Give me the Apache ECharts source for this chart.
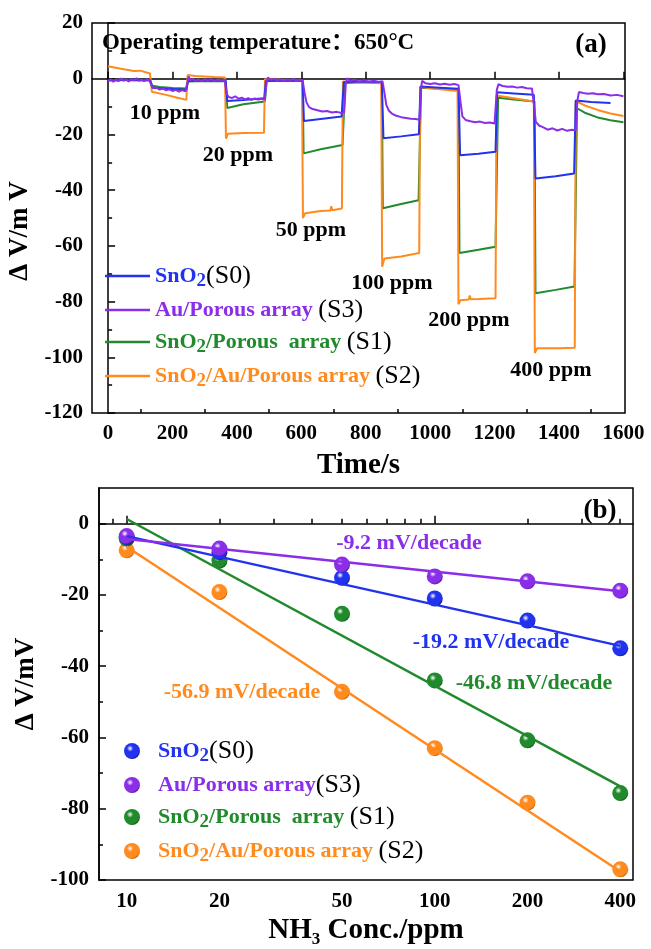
<!DOCTYPE html>
<html>
<head>
<meta charset="utf-8">
<title>NH3 sensing response</title>
<script src="https://cdn.jsdelivr.net/npm/echarts@6.0.0/dist/echarts.min.js"></script>
<style>
    html, body { margin: 0; padding: 0; background: #fff; }
    #main { width: 651px; height: 949px; }
</style>
</head>
<body>
<div id="main"></div>
<script>
// (a) transient response, [time s, dV mV]
var s0Trace = [[0,-0.6],[60,-0.4],[130,-0.5],[138,-3.2],[180,-3.6],[243,-4.0],[248,-0.8],[300,-0.6],[365,-0.6],[370,-8.0],[420,-7.6],[485,-7.0],[490,-0.8],[550,-0.6],[604,-0.7],[608,-15.2],[660,-14.5],[725,-13.6],[732,-1.2],[790,-1.0],[850,-1.2],[855,-21.4],[910,-20.7],[965,-19.9],[970,-2.8],[1030,-3.2],[1088,-3.6],[1093,-27.5],[1150,-26.9],[1203,-26.2],[1208,-4.9],[1260,-5.3],[1322,-5.8],[1327,-35.8],[1390,-35.0],[1447,-34.0],[1452,-7.8],[1500,-8.4],[1560,-8.7]];
var s3Trace = [[0,-0.8],[8,-0.2],[16,-1.1],[24,-0.4],[32,-0.9],[40,0.1],[48,-0.7],[56,-0.3],[64,-1.0],[72,-0.2],[80,-0.6],[88,0.2],[96,-0.8],[104,-0.3],[112,-0.9],[120,-0.2],[128,-0.6],
    [135,-2.5],[142,-3.4],[150,-3.1],[160,-3.9],[170,-3.5],[180,-4.2],[190,-3.8],[200,-4.4],[210,-4.0],[220,-4.6],[230,-4.1],[240,-4.5],
    [246,-1.5],[250,0.8],[256,-0.6],[264,-0.1],[272,-0.8],[280,-0.3],[290,-0.9],[300,-0.2],[310,-0.7],[320,-0.1],[330,-0.8],[340,-0.3],[350,-0.7],[362,-0.4],
    [368,-5.5],[375,-6.6],[385,-6.9],[395,-6.3],[405,-7.2],[415,-6.8],[425,-7.4],[435,-7.0],[445,-7.6],[455,-7.1],[465,-7.5],[478,-7.2],[486,-7.6],
    [492,-1.5],[496,0.4],[505,-0.5],[515,-0.1],[525,-0.7],[535,-0.2],[545,-0.8],[555,-0.3],[565,-0.6],[575,-0.1],[585,-0.7],[597,-0.4],[604,-0.6],
    [610,-5.0],[616,-8.5],[624,-10.2],[635,-10.9],[650,-11.3],[665,-11.8],[680,-11.6],[695,-12.1],[710,-11.9],[725,-12.3],[733,-12.0],
    [738,-2.0],[742,0.2],[750,-0.8],[765,-0.4],[780,-1.0],[795,-0.6],[810,-1.1],[825,-0.7],[840,-1.2],[852,-0.9],
    [858,-5.0],[864,-9.5],[872,-11.5],[882,-12.6],[895,-13.3],[910,-13.8],[925,-14.1],[940,-14.4],[955,-14.5],[967,-14.7],
    [971,-4.0],[975,-0.8],[985,-1.6],[1000,-1.9],[1015,-1.6],[1030,-2.1],[1045,-1.8],[1060,-2.2],[1075,-1.9],[1088,-2.3],
    [1095,-9.0],[1100,-13.5],[1110,-14.8],[1125,-15.3],[1140,-15.6],[1155,-15.4],[1170,-15.9],[1185,-15.7],[1200,-16.1],
    [1207,-4.0],[1212,-2.0],[1225,-2.6],[1240,-2.9],[1255,-2.8],[1270,-3.2],[1285,-3.0],[1300,-3.4],[1316,-3.5],
    [1323,-10.0],[1328,-15.5],[1338,-16.8],[1350,-17.4],[1365,-18.3],[1380,-17.8],[1395,-18.6],[1410,-18.0],[1425,-18.7],[1440,-18.3],[1452,-18.6],
    [1457,-8.0],[1462,-4.8],[1475,-5.1],[1490,-5.4],[1505,-5.2],[1520,-5.6],[1540,-5.5],[1560,-6.0],[1580,-5.8],[1600,-6.3]];
var s1Trace = [[0,-0.5],[130,-0.6],[137,-2.5],[160,-3.0],[200,-3.3],[243,-3.5],[248,-1.0],[300,-0.8],[365,-0.9],[370,-10.5],[420,-9.2],[487,-8.2],[492,-0.8],[550,-0.6],[604,-0.8],[607,-26.8],[660,-25.3],[728,-23.8],[736,-1.5],[790,-1.3],[850,-1.6],[853,-46.5],[910,-45.0],[964,-43.6],[972,-3.2],[1030,-3.6],[1088,-4.0],[1091,-62.6],[1150,-61.4],[1203,-60.3],[1211,-6.8],[1260,-7.5],[1324,-8.2],[1327,-77.0],[1390,-75.8],[1448,-74.6],[1456,-10.6],[1480,-12.2],[1520,-13.9],[1560,-14.9],[1600,-15.6]];
var s2Trace = [[0,4.5],[40,3.6],[80,2.8],[100,2.9],[130,1.9],[136,-4.7],[180,-5.8],[215,-6.8],[243,-7.6],[247,1.3],[270,1.0],[330,0.6],[363,0.4],[366,-21.5],[372,-19.8],[420,-19.5],[484,-19.4],[487,-0.2],[550,-0.5],[602,-0.8],[605,-50.0],[612,-48.3],[660,-47.5],[690,-47.3],[693,-45.8],[696,-47.2],[726,-46.6],[729,-1.0],[790,-1.3],[848,-1.5],[851,-67.5],[858,-64.5],[910,-63.8],[966,-62.6],[969,-3.0],[1030,-3.8],[1085,-4.4],[1088,-81.0],[1094,-79.5],[1120,-79.3],[1123,-77.8],[1126,-79.2],[1150,-79.1],[1203,-78.8],[1206,-6.0],[1260,-7.0],[1322,-8.2],[1325,-98.5],[1332,-96.8],[1400,-96.8],[1449,-96.6],[1452,-8.0],[1480,-9.6],[1520,-11.2],[1560,-12.5],[1600,-13.4]];
var ppmLabels = ['10 ppm', '20 ppm', '50 ppm', '100 ppm', '200 ppm', '400 ppm'];
var timeTicks = [0, 200, 400, 600, 800, 1000, 1200, 1400, 1600];
var timeMinor = [100, 300, 500, 700, 900, 1100, 1300, 1500];

// (b) response vs NH3 concentration
var concList = [10, 20, 50, 100, 200, 400];
var s0Points = [-3.8, -8.0, -15.2, -21.0, -27.2, -35.0];
var s3Points = [-3.5, -7.0, -11.5, -14.8, -16.2, -18.8];
var s1Points = [-4.2, -10.4, -25.3, -44.0, -60.8, -75.6];
var s2Points = [-7.5, -19.2, -47.2, -63.0, -78.3, -97.0];
// fitted lines, values at 10 and 400 ppm
var fitConc = [10, 400];
var s0Fit = [-3.5, -34.3];
var s3Fit = [-4.3, -19.0];
var s1Fit = [1.3, -73.7];
var s2Fit = [-6.5, -97.6];
var slopeTexts = ['-19.2 mV/decade', '-9.2 mV/decade', '-46.8 mV/decade', '-56.9 mV/decade'];
var concTicks = [10, 20, 50, 100, 200, 400];
var concMajor = [10, 100];
var concMinor = [9, 20, 30, 40, 50, 60, 70, 80, 90, 200, 300, 400];
var dvTicks = [-100, -80, -60, -40, -20, 0];
var dvMinor = [-90, -70, -50, -30, -10];

var SERIF = "'Liberation Serif', 'Times New Roman', serif";
var colS0 = '#2233ee', colS3 = '#8b2ee8', colS1 = '#208a2c', colS2 = '#ff8a1e';

window.onload = function () {
    draw_chart();
};

function pairs(xs, ys) {
    return xs.map(function (x, i) { return [x, ys[i]]; });
}

function ball(c, dark) {
    return new echarts.graphic.RadialGradient(0.38, 0.34, 0.72, [
        { offset: 0, color: '#ffffff' },
        { offset: 0.28, color: c },
        { offset: 0.8, color: c },
        { offset: 1, color: dark }
    ]);
}

function make_rich(pad) {
    var rich = { k: { color: '#000', fontFamily: SERIF, fontWeight: 'normal', fontSize: 26, lineHeight: 30 },
                 sp: { width: pad, lineHeight: 30 } };
    var cols = { 0: colS0, 1: colS1, 2: colS2, 3: colS3 };
    for (var i in cols) {
        rich['t' + i] = { color: cols[i], fontFamily: SERIF, fontWeight: 'bold', fontSize: 22, lineHeight: 30 };
        rich['u' + i] = { color: cols[i], fontFamily: SERIF, fontWeight: 'bold', fontSize: 19, lineHeight: 14, verticalAlign: 'bottom' };
    }
    return rich;
}

var legendTextA = {
    a0: '{t0|SnO}{u0|2}{k|(S0)}',
    a3: '{t3|Au/Porous array }{k|(S3)}',
    a1: '{t1|SnO}{u1|2}{t1|/Porous  array }{k|(S1)}',
    a2: '{t2|SnO}{u2|2}{t2|/Au/Porous array }{k|(S2)}'
};
var legendTextB = {
    b0: '{sp| }{t0|SnO}{u0|2}{k|(S0)}',
    b3: '{sp| }{t3|Au/Porous array}{k|(S3)}',
    b1: '{sp| }{t1|SnO}{u1|2}{t1|/Porous  array }{k|(S1)}',
    b2: '{sp| }{t2|SnO}{u2|2}{t2|/Au/Porous array }{k|(S2)}'
};

function axis_label(extra) {
    var o = { color: '#000', fontFamily: SERIF, fontWeight: 'bold', fontSize: 21,
              formatter: function (v) { return String(v); } };
    for (var k in extra) o[k] = extra[k];
    return o;
}

function draw_chart() {
    var myChart = echarts.init(document.getElementById('main'), null, { renderer: 'canvas' });
    var lineAxis = { show: true, lineStyle: { color: '#000', width: 1.5 } };
    var noLine = { show: false };

    var annot = [];
    var ppmPos = [[165, 113], [238, 155], [311, 230], [392, 283], [469, 320], [551, 370]];
    ppmLabels.forEach(function (t, i) {
        annot.push({ type: 'text', x: ppmPos[i][0], y: ppmPos[i][1],
            style: { text: t, fill: '#000', font: 'bold 22px ' + SERIF, align: 'center', verticalAlign: 'middle' } });
    });
    var slopePos = [[491, 642, colS0], [409, 543, colS3], [534, 683, colS1], [242, 692, colS2]];
    slopeTexts.forEach(function (t, i) {
        annot.push({ type: 'text', x: slopePos[i][0], y: slopePos[i][1],
            style: { text: t, fill: slopePos[i][2], font: 'bold 22px ' + SERIF, align: 'center', verticalAlign: 'middle' } });
    });
    annot.push({ type: 'text', x: 102, y: 43,
        style: { text: 'Operating temperature：650°C', fill: '#000', font: "bold 23px 'Liberation Serif', 'Noto Sans CJK SC', serif", align: 'left', verticalAlign: 'middle' } });
    annot.push({ type: 'text', x: 591, y: 45,
        style: { text: '(a)', fill: '#000', font: 'bold 27px ' + SERIF, align: 'center', verticalAlign: 'middle' } });
    annot.push({ type: 'text', x: 600, y: 511,
        style: { text: '(b)', fill: '#000', font: 'bold 27px ' + SERIF, align: 'center', verticalAlign: 'middle' } });

    var option = {
        animation: false,
        backgroundColor: '#fff',
        grid: [
            { left: 92, top: 23, width: 533, height: 390, show: true, borderColor: '#000', borderWidth: 1.5, containLabel: false, outerBoundsMode: 'none' },
            { left: 99, top: 488, width: 534, height: 392, show: true, borderColor: '#000', borderWidth: 1.5, containLabel: false, outerBoundsMode: 'none' }
        ],
        legend: [
            {
                orient: 'vertical', left: 100, top: 258, itemGap: 6, itemWidth: 45, itemHeight: 2.5,
                icon: 'rect', selectedMode: false,
                data: ['a0', 'a3', 'a1', 'a2'],
                formatter: function (name) { return legendTextA[name]; },
                textStyle: { rich: make_rich(0) }
            },
            {
                orient: 'vertical', left: 119, top: 733, itemGap: 6, itemWidth: 16, itemHeight: 16,
                icon: 'circle', selectedMode: false,
                data: ['b0', 'b3', 'b1', 'b2'],
                formatter: function (name) { return legendTextB[name]; },
                textStyle: { rich: make_rich(13) }
            }
        ],
        xAxis: [
            {
                gridIndex: 0, type: 'value', min: -50, max: 1605, position: 'bottom',
                name: 'Time/s', nameLocation: 'middle', nameGap: 38,
                nameTextStyle: { color: '#000', fontFamily: SERIF, fontWeight: 'bold', fontSize: 29 },
                axisLine: lineAxis,
                axisTick: { show: true, inside: true, length: 7, customValues: timeTicks, lineStyle: { color: '#000', width: 1.5 } },
                axisLabel: axis_label({ margin: 10, customValues: timeTicks }),
                splitLine: { show: false }
            },
            {
                gridIndex: 0, type: 'value', min: -50, max: 1605, position: 'bottom',
                axisLine: noLine, axisLabel: { show: false }, splitLine: { show: false },
                axisTick: { show: true, inside: true, length: 4, customValues: timeMinor, lineStyle: { color: '#000', width: 1.5 } }
            },
            {
                gridIndex: 1, type: 'log', logBase: 10, min: 8.13, max: 440, position: 'bottom',
                name: '{m|NH}{s|3}{m| Conc./ppm}', nameLocation: 'middle', nameGap: 34,
                nameTextStyle: { color: '#000', rich: {
                    m: { color: '#000', fontFamily: SERIF, fontWeight: 'bold', fontSize: 29, lineHeight: 34 },
                    s: { color: '#000', fontFamily: SERIF, fontWeight: 'bold', fontSize: 17, lineHeight: 10, verticalAlign: 'bottom' }
                } },
                axisLine: lineAxis,
                axisTick: { show: true, inside: true, length: 8, customValues: concMajor, lineStyle: { color: '#000', width: 1.5 } },
                axisLabel: axis_label({ margin: 11, customValues: concTicks }),
                splitLine: { show: false }, minorTick: { show: false }, minorSplitLine: { show: false }
            },
            {
                gridIndex: 1, type: 'log', logBase: 10, min: 8.13, max: 440, position: 'bottom',
                axisLine: noLine, axisLabel: { show: false }, splitLine: { show: false },
                axisTick: { show: true, inside: true, length: 5, customValues: concMinor, lineStyle: { color: '#000', width: 1.5 } }
            }
        ],
        yAxis: [
            {
                gridIndex: 0, type: 'value', min: -120, max: 20, interval: 20, position: 'left',
                name: 'Δ V/m V', nameLocation: 'middle', nameGap: 50, nameRotate: 90,
                nameTextStyle: { color: '#000', fontFamily: SERIF, fontWeight: 'bold', fontSize: 27, padding: [0, 26, 0, 0] },
                axisLine: lineAxis,
                axisTick: { show: true, inside: true, length: 7, lineStyle: { color: '#000', width: 1.5 } },
                minorTick: { show: true, splitNumber: 2, length: 4, lineStyle: { color: '#000', width: 1.5 } },
                axisLabel: axis_label({ margin: 9 }),
                splitLine: { show: false }
            },
            {
                gridIndex: 1, type: 'value', min: -100, max: 10, position: 'left',
                name: 'Δ V/mV', nameLocation: 'middle', nameGap: 56, nameRotate: 90,
                nameTextStyle: { color: '#000', fontFamily: SERIF, fontWeight: 'bold', fontSize: 27 },
                axisLine: lineAxis,
                axisTick: { show: true, inside: true, length: 7, customValues: dvTicks, lineStyle: { color: '#000', width: 1.5 } },
                axisLabel: axis_label({ margin: 10, customValues: dvTicks }),
                splitLine: { show: false }
            },
            {
                gridIndex: 1, type: 'value', min: -100, max: 10, position: 'left',
                axisLine: noLine, axisLabel: { show: false }, splitLine: { show: false },
                axisTick: { show: true, inside: true, length: 4, customValues: dvMinor, lineStyle: { color: '#000', width: 1.5 } }
            }
        ],
        series: [
            { name: 'a1', type: 'line', xAxisIndex: 0, yAxisIndex: 0, data: s1Trace, symbol: 'none', color: colS1, lineStyle: { width: 2, color: colS1 } },
            { name: 'a2', type: 'line', xAxisIndex: 0, yAxisIndex: 0, data: s2Trace, symbol: 'none', color: colS2, lineStyle: { width: 2, color: colS2 } },
            { name: 'a0', type: 'line', xAxisIndex: 0, yAxisIndex: 0, data: s0Trace, symbol: 'none', color: colS0, lineStyle: { width: 2, color: colS0 } },
            { name: 'a3', type: 'line', xAxisIndex: 0, yAxisIndex: 0, data: s3Trace, symbol: 'none', color: colS3, lineStyle: { width: 2, color: colS3 } },

            { name: 'fit2', type: 'line', xAxisIndex: 2, yAxisIndex: 1, data: pairs(fitConc, s2Fit), symbol: 'none', lineStyle: { width: 2.5, color: colS2 } },
            { name: 'fit1', type: 'line', xAxisIndex: 2, yAxisIndex: 1, data: pairs(fitConc, s1Fit), symbol: 'none', lineStyle: { width: 2.5, color: colS1 } },
            { name: 'fit0', type: 'line', xAxisIndex: 2, yAxisIndex: 1, data: pairs(fitConc, s0Fit), symbol: 'none', lineStyle: { width: 2.5, color: colS0 } },
            { name: 'fit3', type: 'line', xAxisIndex: 2, yAxisIndex: 1, data: pairs(fitConc, s3Fit), symbol: 'none', lineStyle: { width: 2.5, color: colS3 } },

            { name: 'b2', type: 'scatter', xAxisIndex: 2, yAxisIndex: 1, data: pairs(concList, s2Points), symbolSize: 16, itemStyle: { color: ball(colS2, '#b85200'), opacity: 1 } },
            { name: 'b1', type: 'scatter', xAxisIndex: 2, yAxisIndex: 1, data: pairs(concList, s1Points), symbolSize: 16, itemStyle: { color: ball(colS1, '#0a4a12'), opacity: 1 } },
            { name: 'b0', type: 'scatter', xAxisIndex: 2, yAxisIndex: 1, data: pairs(concList, s0Points), symbolSize: 16, itemStyle: { color: ball(colS0, '#0a0a80'), opacity: 1 } },
            { name: 'b3', type: 'scatter', xAxisIndex: 2, yAxisIndex: 1, data: pairs(concList, s3Points), symbolSize: 16, itemStyle: { color: ball(colS3, '#45107a'), opacity: 1 } }
        ],
        graphic: { elements: annot }
    };

    myChart.setOption(option);
}
</script>
</body>
</html>
